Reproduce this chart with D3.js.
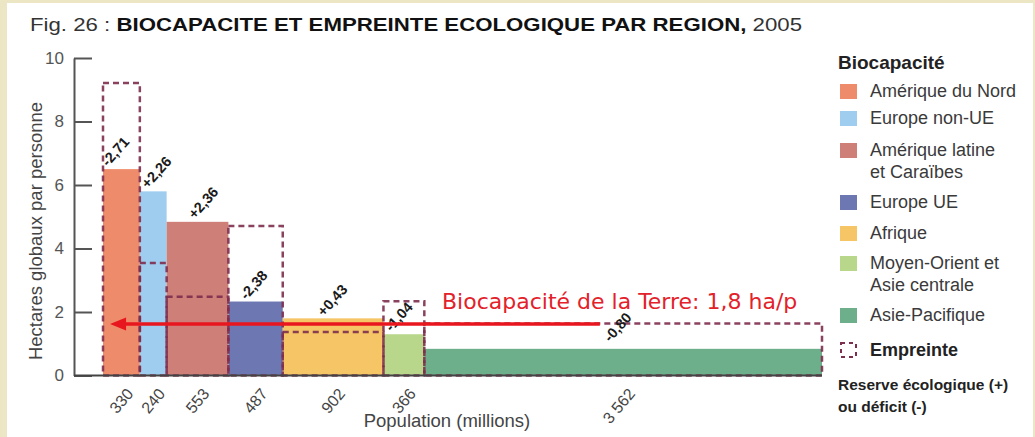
<!DOCTYPE html>
<html>
<head>
<meta charset="utf-8">
<script src="https://cdn.jsdelivr.net/npm/d3@7"></script>
<style>
  body { margin: 0; background: #fff; }
  svg { display: block; font-family: "Liberation Sans", Arial, sans-serif; }
</style>
</head>
<body>
<div id="chart"></div>
<script>
// data
const regions = ["Amérique du Nord", "Europe non-UE", "Amérique latine et Caraïbes", "Europe UE",
                 "Afrique", "Moyen-Orient et Asie centrale", "Asie-Pacifique"];
const population = [330, 240, 553, 487, 902, 366, 3562];          // millions
const populationLabels = ["330", "240", "553", "487", "902", "366", "3 562"];
const biocapacity = [6.5, 5.8, 4.84, 2.33, 1.8, 1.3, 0.84];       // hag / personne
const footprint = [9.21, 3.54, 2.48, 4.71, 1.37, 2.34, 1.64];
const balanceLabels = ["-2,71", "+2,26", "+2,36", "-2,38", "+0,43", "-1,04", "-0,80"];
const regionColors = ["#ee8b6a", "#9ecdef", "#cd7f78", "#6d78b3", "#f6c565", "#b8d78b", "#6daf8a"];
const yTicks = [0, 2, 4, 6, 8, 10];
const earthLevel = 1.62;   // height of the red arrow as drawn
const earthLabel = "Biocapacité de la Terre: 1,8 ha/p";

const width = 1035, height = 437;
const svg = d3.select("#chart").append("svg")
  .attr("width", width)
  .attr("height", height);

// beige paper edge + white sheet
svg.append("rect").attr("width", width).attr("height", height).attr("fill", "#ede6c4");
svg.append("rect").attr("x", 7).attr("y", 3).attr("width", 1026).attr("height", 434).attr("fill", "#fff");

// title
const title = svg.append("text")
  .attr("x", 30).attr("y", 31)
  .attr("font-size", 19).attr("fill", "#333")
  .attr("textLength", 772).attr("lengthAdjust", "spacingAndGlyphs");
title.append("tspan").text("Fig. 26 : ");
title.append("tspan").attr("font-weight", "bold").attr("fill", "#111")
  .text("BIOCAPACITE ET EMPREINTE ECOLOGIQUE PAR REGION,");
title.append("tspan").text(" 2005");

// scales: x is cumulated population
const starts = [];
let acc = 0;
population.forEach(p => { starts.push(acc); acc += p; });
const total = acc;

const x = d3.scaleLinear().domain([0, total]).range([103, 822]);
const y = d3.scaleLinear().domain([0, 10]).range([375.5, 58]);

// biocapacity bars
svg.append("g").selectAll("rect")
  .data(population)
  .join("rect")
    .attr("x", (d, i) => x(starts[i]))
    .attr("width", (d, i) => x(starts[i] + d) - x(starts[i]))
    .attr("y", (d, i) => y(biocapacity[i]))
    .attr("height", (d, i) => y(0) - y(biocapacity[i]))
    .attr("fill", (d, i) => regionColors[i]);

// footprint dashed boxes
svg.append("g").selectAll("rect")
  .data(population)
  .join("rect")
    .attr("x", (d, i) => x(starts[i]))
    .attr("width", (d, i) => x(starts[i] + d) - x(starts[i]))
    .attr("y", (d, i) => y(footprint[i]))
    .attr("height", (d, i) => y(0) - y(footprint[i]))
    .attr("fill", "none")
    .attr("stroke", "#7d2d4e")
    .attr("stroke-opacity", 0.9)
    .attr("stroke-width", 2.5)
    .attr("stroke-dasharray", "6,4");

// y axis (ticks pointing inwards)
const yAxis = svg.append("g")
  .attr("transform", "translate(74,0)")
  .call(d3.axisLeft(y).tickValues(yTicks).tickSize(-18).tickSizeOuter(0).tickPadding(10));
yAxis.select(".domain").attr("stroke", "#555").attr("stroke-width", 2);
yAxis.selectAll(".tick line").attr("stroke", "#555").attr("stroke-width", 2);
yAxis.selectAll(".tick text")
  .attr("font-size", 17).attr("fill", "#555")
  .attr("font-family", "Liberation Sans, Arial, sans-serif");

// x axis: population under the middle of each bar
const centers = population.map((p, i) => starts[i] + p / 2);
const xAxis = svg.append("g")
  .attr("transform", `translate(0,${y(0)})`)
  .call(d3.axisBottom(x).tickValues(centers).tickFormat((d, i) => populationLabels[i]).tickSize(0));
xAxis.select(".domain").remove();
xAxis.selectAll(".tick text")
  .attr("font-size", 16).attr("fill", "#444")
  .attr("font-family", "Liberation Sans, Arial, sans-serif")
  .attr("text-anchor", "end")
  .attr("x", 0).attr("y", 0).attr("dy", "0.35em")
  .attr("transform", "translate(8,15) rotate(-50)");

svg.append("line")
  .attr("x1", 74).attr("x2", x(total))
  .attr("y1", y(0)).attr("y2", y(0))
  .attr("stroke", "#444").attr("stroke-width", 2);

// reserve / deficit labels, rotated
const labelShift = [5, 8, 28, 18, 41, 8, 186];
const labelLift = [2, 2, 2, 1, 1, 2, 6];
svg.append("g").selectAll("text")
  .data(balanceLabels)
  .join("text")
    .attr("transform", (d, i) =>
      `translate(${x(starts[i]) + labelShift[i]},${y(biocapacity[i]) - labelLift[i]}) rotate(-48)`)
    .attr("font-size", 14.5).attr("font-weight", "bold").attr("fill", "#1a1a1a")
    .text(d => d);

// earth biocapacity arrow
const arrowY = y(earthLevel);
const arrowFrom = x(4450), arrowTip = x(63);
svg.append("line")
  .attr("x1", arrowFrom).attr("x2", arrowTip + 12)
  .attr("y1", arrowY).attr("y2", arrowY)
  .attr("stroke", "#e8161e").attr("stroke-width", 3.5);
svg.append("path")
  .attr("d", `M${arrowTip},${arrowY} L${arrowTip + 16},${arrowY - 6.5} L${arrowTip + 16},${arrowY + 6.5} Z`)
  .attr("fill", "#e8161e");
svg.append("text")
  .attr("x", 442).attr("y", arrowY - 15)
  .attr("font-family", "DejaVu Sans, Verdana, sans-serif")
  .attr("font-size", 22).attr("fill", "#e3212a")
  .text(earthLabel);

// axis titles
svg.append("text")
  .attr("x", 447).attr("y", 427)
  .attr("text-anchor", "middle")
  .attr("font-size", 18.5).attr("fill", "#444")
  .text("Population (millions)");

svg.append("text")
  .attr("transform", "translate(42,231) rotate(-90)")
  .attr("text-anchor", "middle")
  .attr("font-size", 18.5).attr("fill", "#444")
  .text("Hectares globaux par personne");

// legend
const legend = svg.append("g").attr("transform", "translate(838,0)");
legend.append("text")
  .attr("x", 0).attr("y", 69)
  .attr("font-size", 19).attr("font-weight", "bold").attr("fill", "#222")
  .text("Biocapacité");

const legendLines = [["Amérique du Nord"], ["Europe non-UE"], ["Amérique latine", "et Caraïbes"], ["Europe UE"],
                     ["Afrique"], ["Moyen-Orient et", "Asie centrale"], ["Asie-Pacifique"]];
const legendBaseline = [97, 124, 156, 208, 239, 269, 321];

const items = legend.selectAll("g.item")
  .data(regions)
  .join("g")
    .attr("class", "item")
    .attr("transform", (d, i) => `translate(0,${legendBaseline[i]})`);
items.append("rect")
  .attr("x", 2).attr("y", -13)
  .attr("width", 17).attr("height", 15)
  .attr("fill", (d, i) => regionColors[i]);
items.append("text")
  .attr("x", 32)
  .attr("font-size", 18).attr("fill", "#3a3a3a")
  .selectAll("tspan")
  .data((d, i) => legendLines[i])
  .join("tspan")
    .attr("x", 32)
    .attr("dy", (d, j) => j === 0 ? 0 : 22)
    .text(d => d);

legend.append("rect")
  .attr("x", 3).attr("y", 343)
  .attr("width", 15).attr("height", 14)
  .attr("fill", "none")
  .attr("stroke", "#7d2d4e").attr("stroke-width", 2)
  .attr("stroke-dasharray", "4,4");
legend.append("text")
  .attr("x", 32).attr("y", 356)
  .attr("font-size", 18).attr("font-weight", "bold").attr("fill", "#222")
  .text("Empreinte");

legend.append("text")
  .attr("x", 0).attr("y", 390)
  .attr("font-size", 15.5).attr("font-weight", "bold").attr("fill", "#222")
  .text("Reserve écologique (+)");
legend.append("text")
  .attr("x", 0).attr("y", 412)
  .attr("font-size", 15.5).attr("font-weight", "bold").attr("fill", "#222")
  .text("ou déficit (-)");
</script>
</body>
</html>
